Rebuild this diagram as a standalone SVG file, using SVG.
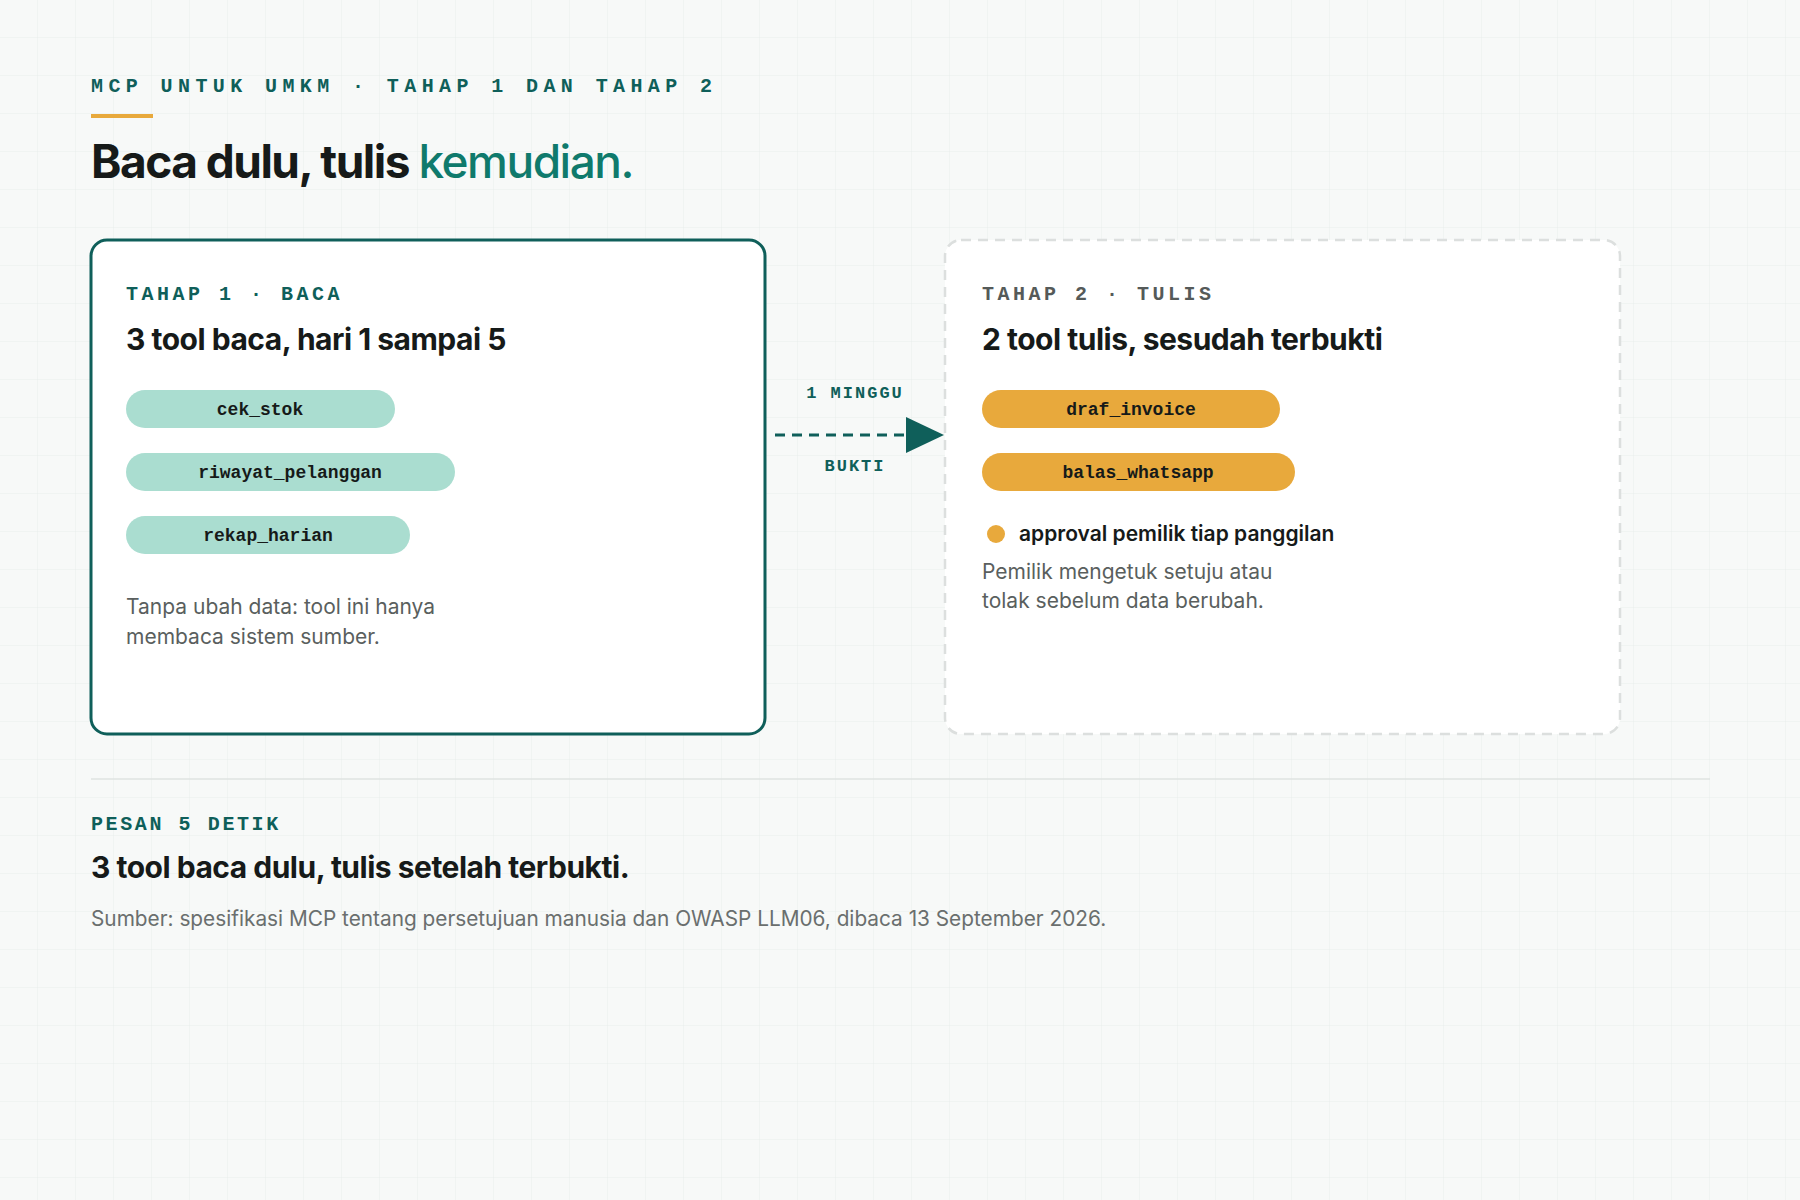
<svg xmlns="http://www.w3.org/2000/svg" width="1800" height="1200" viewBox="0 0 1800 1200">
<defs>
<pattern id="grid" width="38" height="38" patternUnits="userSpaceOnUse"><path d="M38 0V38H0" fill="none" stroke="#e9eeec" stroke-width="1"/></pattern>
<style>
.mono{font-family:"Liberation Mono","DejaVu Sans Mono",monospace;font-weight:bold}
.sans{font-family:Inter,"Noto Sans",sans-serif}
.lbl{font-size:20px;letter-spacing:3.5px}
.h2{font-size:30px;font-weight:bold;fill:#161a19;letter-spacing:-0.5px}
.body{font-size:21px;fill:#5a5f5e}
.pill{font-size:18px;fill:#161a19}
</style>
</defs>
<rect width="1800" height="1200" fill="#f7f9f8"/>
<rect width="1800" height="1200" fill="url(#grid)"/>
<g id="header">
<text x="91" y="92" class="mono lbl" fill="#0f5f5a" style="letter-spacing:5.4px">MCP UNTUK UMKM · TAHAP 1 DAN TAHAP 2</text>
<rect x="91" y="114" width="62" height="4" fill="#e8a93c"/>
<text x="91" y="178" class="sans" font-size="46" font-weight="bold" fill="#161a19" letter-spacing="-1.5">Baca dulu, tulis <tspan fill="#0f7a6c" font-weight="500">kemudian.</tspan></text>
</g>
<g id="tahap1">
<rect x="91" y="240" width="674" height="494" rx="16" fill="#fff" stroke="#0f5f5a" stroke-width="3"/>
<text x="126" y="300" class="mono lbl" fill="#0f5f5a">TAHAP 1 · BACA</text>
<text x="126" y="350" class="sans h2">3 tool baca, hari 1 sampai 5</text>
<rect x="126" y="390" width="269" height="38" rx="19" fill="#aaddd0"/>
<text x="260" y="415" class="mono pill" text-anchor="middle">cek_stok</text>
<rect x="126" y="453" width="329" height="38" rx="19" fill="#aaddd0"/>
<text x="290" y="478" class="mono pill" text-anchor="middle">riwayat_pelanggan</text>
<rect x="126" y="516" width="284" height="38" rx="19" fill="#aaddd0"/>
<text x="268" y="541" class="mono pill" text-anchor="middle">rekap_harian</text>
<text x="126" y="614" class="sans body">Tanpa ubah data: tool ini hanya</text>
<text x="126" y="644" class="sans body">membaca sistem sumber.</text>
</g>
<g id="connectors">
<line x1="775" y1="435" x2="905" y2="435" stroke="#0f5f5a" stroke-width="3" stroke-dasharray="10 7"/>
<path d="M906 417L944 435L906 453z" fill="#0f5f5a"/>
<text x="855" y="398" class="mono" font-size="17" fill="#0f5f5a" text-anchor="middle" letter-spacing="2">1 MINGGU</text>
<text x="855" y="471" class="mono" font-size="17" fill="#0f5f5a" text-anchor="middle" letter-spacing="2">BUKTI</text>
</g>
<g id="tahap2">
<rect x="945" y="240" width="675" height="494" rx="16" fill="#fff" stroke="#dcdfde" stroke-width="2.5" stroke-dasharray="10 7"/>
<text x="982" y="300" class="mono lbl" fill="#555a59">TAHAP 2 · TULIS</text>
<text x="982" y="350" class="sans h2">2 tool tulis, sesudah terbukti</text>
<rect x="982" y="390" width="298" height="38" rx="19" fill="#e8a93c"/>
<text x="1131" y="415" class="mono pill" text-anchor="middle">draf_invoice</text>
<rect x="982" y="453" width="313" height="38" rx="19" fill="#e8a93c"/>
<text x="1138" y="478" class="mono pill" text-anchor="middle">balas_whatsapp</text>
<circle cx="996" cy="534" r="9" fill="#e8a93c"/>
<text x="1019" y="541" class="sans" font-size="21" font-weight="600" fill="#161a19">approval pemilik tiap panggilan</text>
<text x="982" y="579" class="sans body">Pemilik mengetuk setuju atau</text>
<text x="982" y="608" class="sans body">tolak sebelum data berubah.</text>
</g>
<g id="footer">
<line x1="91" y1="779" x2="1710" y2="779" stroke="#dfe3e2" stroke-width="1.5"/>
<text x="91" y="830" class="mono lbl" fill="#0f5f5a" style="letter-spacing:2.6px">PESAN 5 DETIK</text>
<text x="91" y="878" class="sans h2">3 tool baca dulu, tulis setelah terbukti.</text>
<text x="91" y="926" class="sans" font-size="20.8" fill="#6a6f6e">Sumber: spesifikasi MCP tentang persetujuan manusia dan OWASP LLM06, dibaca 13 September 2026.</text>
</g>
</svg>
